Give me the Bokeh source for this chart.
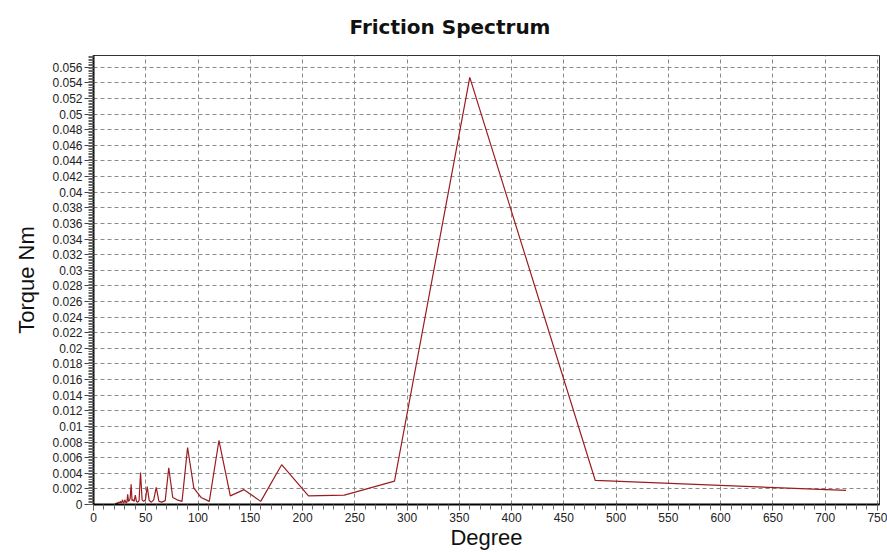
from bokeh.plotting import figure
from bokeh.models import Range1d, FixedTicker, CustomJSTickFormatter, ColumnDataSource
from bokeh.embed import file_html
from bokeh.resources import INLINE

# ---- data ----
degree = [720.0, 480.0, 360.0, 288.0, 240.0, 205.7, 180.0, 160.0, 144.0, 130.9,
          120.0, 110.8, 102.9, 96.0, 90.0, 84.7, 80.0, 75.8, 72.0, 68.6,
          65.5, 62.6, 60.0, 57.6, 55.4, 53.3, 51.4, 49.7, 48.0, 46.5,
          45.0, 43.6, 42.4, 41.1, 40.0, 38.9, 37.9, 36.9, 36.0, 35.1,
          34.3, 33.5, 32.7, 32.0, 31.3, 30.6, 30.0, 29.4, 28.8, 28.2,
          27.7, 27.2, 26.7, 26.2, 25.7, 25.3, 24.8, 24.4, 24.0, 23.6,
          23.2, 22.9, 22.5, 22.2, 21.8, 21.5, 21.2, 20.9, 20.6]
torque = [0.0018, 0.0031, 0.0547, 0.0030, 0.0012, 0.0011, 0.0051, 0.0004, 0.0019, 0.0011,
          0.0082, 0.0004, 0.0009, 0.0021, 0.0073, 0.0004, 0.0006, 0.0009, 0.0047, 0.0005,
          0.0003, 0.0004, 0.0022, 0.0006, 0.0003, 0.0005, 0.0023, 0.0006, 0.0004, 0.0006,
          0.0041, 0.0005, 0.0003, 0.0004, 0.0012, 0.0004, 0.0006, 0.0005, 0.0026, 0.0008,
          0.0005, 0.0004, 0.0013, 0.0003, 0.0002, 0.0004, 0.0006, 0.0003, 0.0002, 0.0004,
          0.0006, 0.0003, 0.0002, 0.0003, 0.0004, 0.0002, 0.0003, 0.0002, 0.0003, 0.0002,
          0.0001, 0.0002, 0.0002, 0.0001, 0.0002, 0.0001, 0.0001, 0.0001, 0.0001]

x_tick_labels = ["0", "50", "100", "150", "200", "250", "300", "350", "400",
                 "450", "500", "550", "600", "650", "700", "750"]
y_tick_labels = ["0", "0.002", "0.004", "0.006", "0.008", "0.01", "0.012", "0.014",
                 "0.016", "0.018", "0.02", "0.022", "0.024", "0.026", "0.028", "0.03",
                 "0.032", "0.034", "0.036", "0.038", "0.04", "0.042", "0.044", "0.046",
                 "0.048", "0.05", "0.052", "0.054", "0.056"]

title_text = "Friction Spectrum"
x_title = "Degree"
y_title = "Torque Nm"

# ---- derived ----
order = sorted(range(len(degree)), key=lambda i: degree[i])
src = ColumnDataSource(dict(x=[degree[i] for i in order], y=[torque[i] for i in order]))

x_ticks = [float(s) for s in x_tick_labels]
y_ticks = [float(s) for s in y_tick_labels]
x_minor = [x_ticks[0] + 10 * k for k in range(int((x_ticks[-1] - x_ticks[0]) / 10) + 1)]
y_minor = [round(0.0002 * k, 5) for k in range(0, 288)]

p = figure(width=887, height=552, output_backend="svg", toolbar_location=None,
           x_range=Range1d(0, 752), y_range=Range1d(0, 0.0575),
           min_border_left=93, min_border_right=8, min_border_top=54, min_border_bottom=48,
           background_fill_color="white", border_fill_color="white")

p.line("x", "y", source=src, line_color="#9b1c20", line_width=1.2)

p.title.text = title_text
p.title.align = "left"
p.title.offset = 256
p.title.text_font = "DejaVu Sans"
p.title.text_font_size = "20px"
p.title.text_font_style = "bold"
p.title.text_color = "#111111"
p.title.vertical_align = "top"
p.title.standoff = 29

fmt_code = """
let best = 0; let bd = 1e9;
for (let i = 0; i < ticks_v.length; i++) { const d = Math.abs(ticks_v[i] - tick); if (d < bd) { bd = d; best = i; } }
return labels[best];
"""

xa = p.xaxis[0]
xa.ticker = FixedTicker(ticks=x_ticks, minor_ticks=x_minor)
xa.formatter = CustomJSTickFormatter(args=dict(ticks_v=x_ticks, labels=x_tick_labels), code=fmt_code)
ya = p.yaxis[0]
ya.ticker = FixedTicker(ticks=y_ticks, minor_ticks=y_minor)
ya.formatter = CustomJSTickFormatter(args=dict(ticks_v=y_ticks, labels=y_tick_labels), code=fmt_code)

for ax in (xa, ya):
    ax.axis_line_color = "black"
    ax.axis_line_width = 2
    ax.major_tick_line_color = "#444444"
    ax.minor_tick_line_color = "#666666"
    ax.major_tick_in = 0
    ax.minor_tick_in = 0
    ax.major_label_text_font = "Liberation Sans"
    ax.major_label_text_font_size = "12px"
    ax.major_label_text_color = "#222222"
    ax.axis_label_text_font = "Liberation Sans"
    ax.axis_label_text_font_size = "22px"
    ax.axis_label_text_font_style = "normal"
    ax.axis_label_text_color = "#111111"

xa.axis_label = x_title
ya.axis_label = y_title
xa.major_tick_out = 6
xa.minor_tick_out = 5
ya.major_tick_out = 9
ya.minor_tick_out = 5
xa.major_label_standoff = 2
ya.major_label_standoff = 2
xa.axis_label_standoff = 0
ya.axis_label_standoff = 10

for g in (p.xgrid[0], p.ygrid[0]):
    g.grid_line_color = "#8a8a8a"
    g.grid_line_dash = "4 3"
    g.grid_line_width = 1
p.xgrid[0].ticker = FixedTicker(ticks=x_ticks)
p.ygrid[0].ticker = FixedTicker(ticks=y_ticks)

p.outline_line_color = "#333333"
p.outline_line_width = 1

open("out.html", "w").write(file_html(p, INLINE))
